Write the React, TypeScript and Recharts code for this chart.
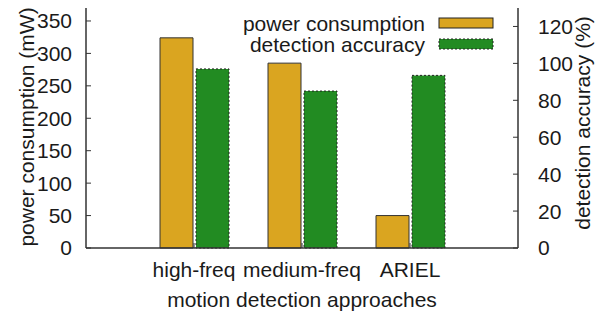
import { Bar, BarChart, Label, Legend, XAxis, YAxis } from "recharts";

const categories = ["high-freq", "medium-freq", "ARIEL"];
const powerMw = [324, 285, 50];
const accuracyPct = [97, 85, 93.5];
const powerTicks = [0, 50, 100, 150, 200, 250, 300, 350];
const accuracyTicks = [0, 20, 40, 60, 80, 100, 120];
const seriesNames = ["power consumption", "detection accuracy"];
const seriesColors = ["#DAA520", "#228B22"];

const FONT = "'Liberation Sans', Arial, Helvetica, sans-serif";
const INK = "#1a1a1a";
const FRAME = "#333";

const data = categories.map((name, i) => ({
  name,
  power: powerMw[i],
  accuracy: accuracyPct[i],
}));

const tickStyle = { fill: INK, fontSize: 21, fontFamily: FONT };

function GnuplotLegend() {
  return (
    <svg width={602} height={60} style={{ display: "block" }}>
      {seriesNames.map((name, i) => {
        const cy = 23 + i * 21;
        return (
          <g key={name}>
            <text
              x={425}
              y={cy + 8}
              textAnchor="end"
              fill={INK}
              fontSize={21}
              fontFamily={FONT}
            >
              {name}
            </text>
            <rect
              x={439}
              y={cy - 5}
              width={54}
              height={10}
              fill={seriesColors[i]}
              stroke="#222"
              strokeWidth={1}
              strokeDasharray={i === 1 ? "2 2" : undefined}
            />
          </g>
        );
      })}
    </svg>
  );
}

export default function App() {
  return (
    <div style={{ position: "absolute", left: 0, top: 0, background: "#fff" }}>
      <BarChart
        width={602}
        height={316}
        data={data}
        margin={{ top: 8, right: 34, left: 26, bottom: 8 }}
        barGap={3}
        barSize={33}
      >
        <XAxis
          xAxisId="bottom"
          dataKey="name"
          height={60}
          padding={{ left: 54, right: 54 }}
          tickSize={-5}
          tickMargin={19}
          tick={tickStyle}
          axisLine={{ stroke: FRAME, strokeWidth: 1.5 }}
          tickLine={{ stroke: FRAME }}
        >
          <Label
            content={() => (
              <text
                x={302}
                y={307}
                textAnchor="middle"
                fill={INK}
                fontSize={21}
                fontFamily={FONT}
              >
                motion detection approaches
              </text>
            )}
          />
        </XAxis>
        <XAxis
          xAxisId="top"
          orientation="top"
          dataKey="name"
          height={0}
          padding={{ left: 54, right: 54 }}
          tickSize={-5}
          tick={() => <g />}
          axisLine={{ stroke: FRAME, strokeWidth: 1.5 }}
          tickLine={{ stroke: FRAME }}
        />
        <YAxis
          yAxisId="left"
          width={60}
          domain={[0, 370]}
          ticks={powerTicks}
          interval={0}
          tickSize={-5}
          tickMargin={19}
          tick={tickStyle}
          axisLine={{ stroke: FRAME, strokeWidth: 1.5 }}
          tickLine={{ stroke: FRAME }}
        >
          <Label
            content={() => (
              <text
                transform="rotate(-90)"
                x={-127}
                y={34}
                textAnchor="middle"
                fill={INK}
                fontSize={21}
                fontFamily={FONT}
              >
                power consumption (mW)
              </text>
            )}
          />
        </YAxis>
        <YAxis
          yAxisId="right"
          orientation="right"
          width={50}
          domain={[0, 130]}
          ticks={accuracyTicks}
          interval={0}
          tickSize={-5}
          tickMargin={25}
          tick={tickStyle}
          axisLine={{ stroke: FRAME, strokeWidth: 1.5 }}
          tickLine={{ stroke: FRAME }}
        >
          <Label
            content={() => (
              <text
                transform="rotate(-90)"
                x={-123}
                y={590}
                textAnchor="middle"
                fill={INK}
                fontSize={21}
                fontFamily={FONT}
              >
                detection accuracy (%)
              </text>
            )}
          />
        </YAxis>
        <Legend
          layout="vertical"
          align="center"
          verticalAlign="middle"
          wrapperStyle={{ position: "absolute", left: 0, top: 0, width: 602, height: 60 }}
          content={() => <GnuplotLegend />}
        />
        <Bar
          xAxisId="bottom"
          yAxisId="left"
          dataKey="power"
          name={seriesNames[0]}
          fill={seriesColors[0]}
          stroke="#333"
          strokeWidth={1}
          isAnimationActive={false}
        />
        <Bar
          xAxisId="bottom"
          yAxisId="right"
          dataKey="accuracy"
          name={seriesNames[1]}
          fill={seriesColors[1]}
          stroke="#222"
          strokeWidth={1}
          strokeDasharray="2 2"
          isAnimationActive={false}
        />
      </BarChart>
    </div>
  );
}
